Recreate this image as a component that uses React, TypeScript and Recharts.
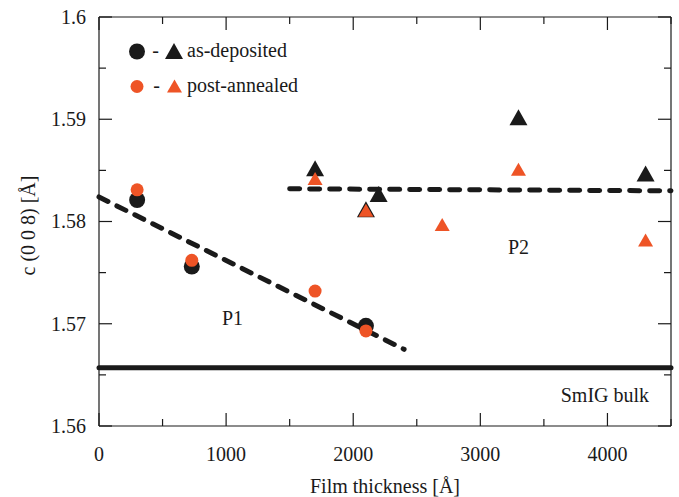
import React from 'react';
import { ScatterChart, Scatter, XAxis, YAxis, ReferenceLine, ReferenceDot, Label } from 'recharts';

const FONT = '"Liberation Serif", "Times New Roman", serif';
const INK = '#1a1a1a';
const ORANGE = '#ee5426';

// axis ticks
const xMajorTicks = [0, 1000, 2000, 3000, 4000];
const xMinorTicks = [500, 1500, 2500, 3500, 4500];
const yMajorTicks = [1.56, 1.57, 1.58, 1.59, 1.6];
const yMinorTicks = [1.565, 1.575, 1.585, 1.595];

// measurements
const asDepositedCircles = [
  { x: 300, y: 1.5821 },
  { x: 730, y: 1.5756 },
  { x: 2100, y: 1.5698 },
];
const postAnnealedCircles = [
  { x: 300, y: 1.5831 },
  { x: 730, y: 1.5762 },
  { x: 1700, y: 1.5732 },
  { x: 2100, y: 1.5693 },
];
const asDepositedTriangles = [
  { x: 1700, y: 1.5852 },
  { x: 2100, y: 1.5812 },
  { x: 2200, y: 1.5827 },
  { x: 3300, y: 1.5902 },
  { x: 4300, y: 1.5847 },
];
const postAnnealedTriangles = [
  { x: 1700, y: 1.5842 },
  { x: 2100, y: 1.5811 },
  { x: 2700, y: 1.5797 },
  { x: 3300, y: 1.5851 },
  { x: 4300, y: 1.5782 },
];

// guide lines
const p1Fit = [{ x: 0, y: 1.5824 }, { x: 2400, y: 1.5675 }];
const p2Fit = [{ x: 1500, y: 1.5832 }, { x: 4500, y: 1.583 }];
const bulkValue = 1.5657;

const annotations = [
  { x: 1050, y: 1.5706, text: 'P1' },
  { x: 3300, y: 1.5775, text: 'P2' },
  { x: 3980, y: 1.563, text: 'SmIG bulk' },
];

const xTicks = [...xMajorTicks, ...xMinorTicks].sort((a, b) => a - b);
const yTicks = [...yMajorTicks, ...yMinorTicks].sort((a, b) => a - b);

const isMajor = (list: number[], v: number) => list.some((m) => Math.abs(m - v) < 1e-9);

const MAJOR = 13;
const MINOR = 7;

const BottomTick = (props: any) => {
  const { x, y, payload } = props;
  const major = isMajor(xMajorTicks, payload.value);
  return (
    <g>
      <line x1={x} x2={x} y1={y} y2={y - (major ? MAJOR : MINOR)} stroke={INK} strokeWidth={1.2} />
      {major && (
        <text x={x} y={y + 35} textAnchor="middle" fill={INK} fontSize={20} fontFamily={FONT}>
          {payload.value}
        </text>
      )}
    </g>
  );
};

const TopTick = (props: any) => {
  const { x, y, payload } = props;
  const major = isMajor(xMajorTicks, payload.value);
  return <line x1={x} x2={x} y1={y} y2={y + (major ? MAJOR : MINOR)} stroke={INK} strokeWidth={1.2} />;
};

const LeftTick = (props: any) => {
  const { x, y, payload } = props;
  const major = isMajor(yMajorTicks, payload.value);
  return (
    <g>
      <line x1={x} x2={x + (major ? MAJOR : MINOR)} y1={y} y2={y} stroke={INK} strokeWidth={1.2} />
      {major && (
        <text x={x - 13} y={y} dy="0.34em" textAnchor="end" fill={INK} fontSize={20} fontFamily={FONT}>
          {String(payload.value)}
        </text>
      )}
    </g>
  );
};

const RightTick = (props: any) => {
  const { x, y, payload } = props;
  const major = isMajor(yMajorTicks, payload.value);
  return <line x1={x} x2={x - (major ? MAJOR : MINOR)} y1={y} y2={y} stroke={INK} strokeWidth={1.2} />;
};

const triangle = (cx: number, cy: number, w: number, h: number) =>
  `${cx},${cy - h / 2} ${cx + w / 2},${cy + h / 2} ${cx - w / 2},${cy + h / 2}`;

const BigCircle = (p: any) => <circle cx={p.cx} cy={p.cy} r={8} fill={INK} />;
const SmallCircle = (p: any) => <circle cx={p.cx} cy={p.cy} r={6.5} fill={ORANGE} />;
const BigTriangle = (p: any) => <polygon points={triangle(p.cx, p.cy, 18, 16)} fill={INK} />;
const SmallTriangle = (p: any) => <polygon points={triangle(p.cx, p.cy, 15, 13)} fill={ORANGE} />;

const textStyle = { fill: INK, fontSize: 20, fontFamily: FONT };

export default function App() {
  return (
    <div style={{ position: 'absolute', left: 0, top: 0, width: 679, height: 497, background: '#fff' }}>
      <ScatterChart width={679} height={497} margin={{ top: 0, right: 0, bottom: 0, left: 0 }}>
        <XAxis
          dataKey="x"
          type="number"
          domain={[0, 4500]}
          ticks={xTicks}
          interval={0}
          height={71}
          tickSize={0}
          tickMargin={0}
          tickLine={false}
          tick={<BottomTick />}
          axisLine={{ stroke: INK, strokeWidth: 1.2 }}
          allowDataOverflow
        >
          <Label
            content={(lp: any) => {
              const vb = lp.viewBox || { x: 99, y: 426, width: 572 };
              return (
                <text
                  x={vb.x + vb.width / 2}
                  y={vb.y + 67}
                  textAnchor="middle"
                  fill={INK}
                  fontSize={20}
                  fontFamily={FONT}
                >
                  Film thickness [Å]
                </text>
              );
            }}
          />
        </XAxis>
        <XAxis
          xAxisId="top"
          orientation="top"
          dataKey="x"
          type="number"
          domain={[0, 4500]}
          ticks={xTicks}
          interval={0}
          height={17}
          tickSize={0}
          tickMargin={0}
          tickLine={false}
          tick={<TopTick />}
          axisLine={{ stroke: INK, strokeWidth: 1.2 }}
          allowDataOverflow
        />
        <YAxis
          dataKey="y"
          type="number"
          domain={[1.56, 1.6]}
          ticks={yTicks}
          interval={0}
          width={99}
          tickSize={0}
          tickMargin={0}
          tickLine={false}
          tick={<LeftTick />}
          axisLine={{ stroke: INK, strokeWidth: 1.2 }}
          allowDataOverflow
        >
          <Label
            content={(lp: any) => {
              const vb = lp.viewBox || { x: 0, y: 17, height: 409 };
              const cx = vb.x + 35;
              const cy = vb.y + vb.height / 2 + 4;
              return (
                <text
                  x={cx}
                  y={cy}
                  transform={`rotate(-90, ${cx}, ${cy})`}
                  textAnchor="middle"
                  fill={INK}
                  fontSize={20}
                  fontFamily={FONT}
                >
                  c (0 0 8) [Å]
                </text>
              );
            }}
          />
        </YAxis>
        <YAxis
          yAxisId="right"
          orientation="right"
          dataKey="y"
          type="number"
          domain={[1.56, 1.6]}
          ticks={yTicks}
          interval={0}
          width={8}
          tickSize={0}
          tickMargin={0}
          tickLine={false}
          tick={<RightTick />}
          axisLine={{ stroke: INK, strokeWidth: 1.2 }}
          allowDataOverflow
        />

        <ReferenceLine y={bulkValue} stroke={INK} strokeWidth={5} strokeLinecap="round" ifOverflow="visible" />
        <ReferenceLine
          segment={p1Fit}
          stroke={INK}
          strokeWidth={5}
          strokeDasharray="10 10"
          strokeLinecap="round"
          ifOverflow="visible"
        />
        <ReferenceLine
          segment={p2Fit}
          stroke={INK}
          strokeWidth={5}
          strokeDasharray="10 10"
          strokeLinecap="round"
          ifOverflow="visible"
        />

        <Scatter name="as-deposited circles" data={asDepositedCircles} dataKey="y" shape={BigCircle} isAnimationActive={false} />
        <Scatter name="as-deposited triangles" data={asDepositedTriangles} dataKey="y" shape={BigTriangle} isAnimationActive={false} />
        <Scatter name="post-annealed circles" data={postAnnealedCircles} dataKey="y" shape={SmallCircle} isAnimationActive={false} />
        <Scatter name="post-annealed triangles" data={postAnnealedTriangles} dataKey="y" shape={SmallTriangle} isAnimationActive={false} />

        {annotations.map((a) => (
          <ReferenceDot
            key={a.text}
            x={a.x}
            y={a.y}
            r={1}
            fill="none"
            stroke="none"
            label={{ value: a.text, position: 'center', ...textStyle }}
          />
        ))}
      </ScatterChart>

      <svg
        width={679}
        height={497}
        style={{ position: 'absolute', left: 0, top: 0, pointerEvents: 'none' }}
      >
        <circle cx={137} cy={51.5} r={8} fill={INK} />
        <text x={155.5} y={57} textAnchor="middle" fontSize={20} fontFamily={FONT} fill={INK}>-</text>
        <polygon points={triangle(174, 51, 18, 16)} fill={INK} />
        <text x={187} y={57} fontSize={20} fontFamily={FONT} fill={INK}>as-deposited</text>

        <circle cx={137} cy={86.5} r={6.5} fill={ORANGE} />
        <text x={156.5} y={92} textAnchor="middle" fontSize={20} fontFamily={FONT} fill={INK}>-</text>
        <polygon points={triangle(174.5, 86, 15, 13)} fill={ORANGE} />
        <text x={187} y={92} fontSize={20} fontFamily={FONT} fill={INK}>post-annealed</text>
      </svg>
    </div>
  );
}
